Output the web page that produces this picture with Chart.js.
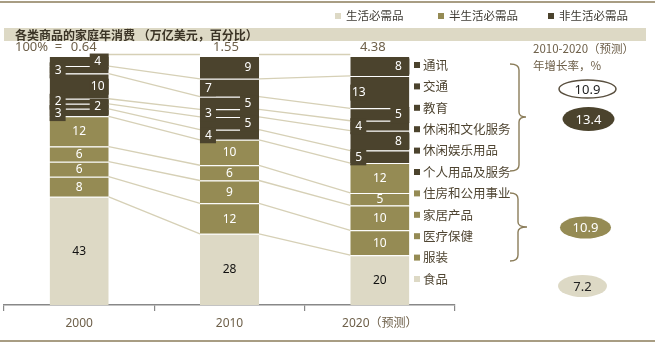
<!DOCTYPE html>
<html><head><meta charset="utf-8">
<script src="https://cdn.jsdelivr.net/npm/chart.js@4/dist/chart.umd.min.js"></script>
<style>html,body{margin:0;padding:0;background:#fff;}canvas{display:block;}</style>
</head><body>
<canvas id="c" width="662" height="344"></canvas>
<script>
const years = ['2000', '2010', '2020（预测）'];
const totals = ['0.64', '1.55', '4.38'];
const categories = ['食品','服装','医疗保健','家居产品','住房和公用事业','个人用品及服务','休闲娱乐用品','休闲和文化服务','教育','交通','通讯'];
const categoryGroup = [0,1,1,1,1,2,2,2,2,2,2];
const share2000 = [43,8,6,6,12,3,2,2,10,3,4];
const share2010 = [28,12,9,6,10,4,5,3,5,7,9];
const share2020 = [20,10,10,5,12,5,8,4,5,13,8];
const groupNames = ['生活必需品','半生活必需品','非生活必需品'];
const growthTotal = 10.9;
const growthByGroup = [7.2, 10.9, 13.4];

const groupColors = ['#ddd9c5', '#958b54', '#4b432d'];
const shares = [share2000, share2010, share2020];
const sums = shares.map(a => a.reduce((s, v) => s + v, 0));
const CJK = '"Noto Sans CJK SC", sans-serif';
const NUM = '"Noto Sans", sans-serif';
const TXT = '#6e604a';

const datasets = categories.map((name, i) => ({
  label: name,
  data: shares.map((arr, j) => arr[i] / sums[j] * 100),
  raw: shares.map(arr => arr[i]),
  backgroundColor: groupColors[categoryGroup[i]],
  borderColor: '#ffffff',
  borderWidth: {top: 1, left: 0, right: 0, bottom: 0},
  borderSkipped: false,
  categoryPercentage: 1,
  barPercentage: 0.393
}));

function brace(ctx, x0, xv, xt, yTop, yMid, yBot) {
  ctx.beginPath();
  ctx.moveTo(x0, yTop);
  ctx.quadraticCurveTo(xv, yTop, xv, yTop + 6);
  ctx.lineTo(xv, yMid - 5);
  ctx.quadraticCurveTo(xv, yMid, xt, yMid);
  ctx.quadraticCurveTo(xv, yMid, xv, yMid + 5);
  ctx.lineTo(xv, yBot - 6);
  ctx.quadraticCurveTo(xv, yBot, x0, yBot);
  ctx.stroke();
}
function oval(ctx, cx, cy, rx, ry, fill, stroke, text, color) {
  ctx.beginPath();
  ctx.ellipse(cx, cy, rx, ry, 0, 0, Math.PI * 2);
  if (fill) { ctx.fillStyle = fill; ctx.fill(); }
  if (stroke) { ctx.strokeStyle = stroke; ctx.lineWidth = 1.5; ctx.stroke(); }
  ctx.fillStyle = color;
  ctx.font = '13px ' + NUM;
  ctx.textAlign = 'center'; ctx.textBaseline = 'middle';
  ctx.fillText(text, cx, cy + 1);
}

const overlay = {
  id: 'overlay',
  beforeDraw(chart) {
    const ctx = chart.ctx;
    ctx.save();
    ctx.fillStyle = '#fff';
    ctx.fillRect(0, 0, chart.width, chart.height);
    ctx.strokeStyle = '#8b7d5a'; ctx.lineWidth = 1.5;
    ctx.beginPath(); ctx.moveTo(0, 2); ctx.lineTo(655, 2); ctx.stroke();
    ctx.beginPath(); ctx.moveTo(0, 341); ctx.lineTo(655, 341); ctx.stroke();
    ctx.font = '11.5px ' + CJK; ctx.textBaseline = 'middle'; ctx.textAlign = 'left';
    const lx = [335, 438, 548];
    groupNames.forEach((g, k) => {
      ctx.fillStyle = groupColors[k];
      ctx.fillRect(lx[k], 13, 6, 6);
      ctx.fillStyle = '#3d3a33';
      ctx.fillText(g, lx[k] + 11, 16);
    });
    ctx.fillStyle = '#ddd9c5';
    ctx.fillRect(4, 28, 642, 13);
    ctx.fillStyle = '#3b3426';
    ctx.font = 'bold 12px ' + CJK;
    ctx.fillText('各类商品的家庭年消费 （万亿美元，百分比）', 15, 35);
    ctx.restore();
  },
  beforeDatasetsDraw(chart) {
    const ctx = chart.ctx;
    ctx.save();
    ctx.strokeStyle = '#d6d0b6'; ctx.lineWidth = 1.3;
    chart.data.datasets.forEach((ds, i) => {
      const meta = chart.getDatasetMeta(i);
      const lift = i === categories.length - 1 ? 1.5 : 0;
      for (let j = 0; j < meta.data.length - 1; j++) {
        const a = meta.data[j], b = meta.data[j + 1];
        ctx.beginPath();
        ctx.moveTo(a.x + a.width / 2, a.y - lift);
        ctx.lineTo(b.x - b.width / 2, b.y - lift);
        ctx.stroke();
      }
    });
    ctx.restore();
  },
  afterDatasetsDraw(chart) {
    const ctx = chart.ctx;
    ctx.save();
    ctx.textAlign = 'center'; ctx.textBaseline = 'middle';
    ctx.font = '12px ' + NUM;
    const texts = [];
    chart.data.datasets.forEach((ds, i) => {
      const meta = chart.getDatasetMeta(i);
      const g = categoryGroup[i];
      meta.data.forEach((el, j) => {
        const cy = (el.y + el.base) / 2 + 0.5;
        const L = el.x - el.width / 2, R = el.x + el.width / 2;
        let x = el.x, color = g === 0 ? '#111' : '#fff';
        if (g === 2) {
          const left = (i - 5) % 2 === 0;
          ctx.fillStyle = groupColors[2];
          if (left) { ctx.fillRect(L, cy - 8, 16, 16); x = L + 8.5; }
          else { ctx.fillRect(R - 19, cy - 8, 19, 16); x = R - 11; }
        }
        texts.push([String(ds.raw[j]), x, cy, color]);
      });
    });
    texts.forEach(t => { ctx.fillStyle = t[3]; ctx.fillText(t[0], t[1], t[2]); });
    const top = chart.getDatasetMeta(categories.length - 1).data;
    ctx.font = '13px ' + NUM; ctx.fillStyle = TXT;
    const nudge = [4.5, -3.5, -7];
    top.forEach((el, j) => ctx.fillText(totals[j], el.x + nudge[j], 47));
    ctx.textAlign = 'left';
    ctx.fillText('100%  =', 15, 47);
    ctx.font = '12.5px ' + CJK;
    categories.forEach((c, i) => {
      const y = 279 - 21.4 * i;
      ctx.fillStyle = groupColors[categoryGroup[i]];
      ctx.fillRect(414, y - 3, 6, 6);
      ctx.fillStyle = '#4f4532';
      ctx.fillText(c, 423, y);
    });
    ctx.strokeStyle = '#8b7d5a'; ctx.lineWidth = 1.4;
    brace(ctx, 510, 519, 526, 64, 117, 171);
    brace(ctx, 510, 518, 527, 193, 227, 261);
    ctx.fillStyle = TXT; ctx.font = '11.5px ' + CJK; ctx.textAlign = 'left';
    ctx.fillText('2010-2020（预测）', 533, 49);
    ctx.fillText('年增长率，%', 533, 66);
    oval(ctx, 587.5, 89, 28.5, 9, null, '#5a5040', String(growthTotal), '#222');
    oval(ctx, 588.5, 119, 26, 12, groupColors[2], null, String(growthByGroup[2]), '#fff');
    oval(ctx, 585.5, 227.5, 25.5, 11, groupColors[1], null, String(growthByGroup[1]), '#fff');
    oval(ctx, 582.5, 286, 24.5, 11, groupColors[0], null, String(growthByGroup[0]), '#222');
    ctx.restore();
  }
};

new Chart(document.getElementById('c'), {
  type: 'bar',
  data: { labels: years, datasets },
  options: {
    responsive: false,
    devicePixelRatio: 1,
    animation: false,
    layout: { padding: { left: 4, right: 207, top: 56, bottom: 0 } },
    plugins: { legend: { display: false }, tooltip: { enabled: false } },
    scales: {
      x: {
        stacked: true,
        afterFit: s => { s.height = 39; },
        grid: { display: true, drawOnChartArea: false, drawTicks: true, tickLength: 6, color: '#888', lineWidth: 1.2, offset: true },
        border: { display: true, color: '#888', width: 1.5 },
        ticks: { color: TXT, font: { size: 12, family: '"Noto Sans", "Noto Sans CJK SC", sans-serif' }, padding: 5 }
      },
      y: { stacked: true, display: false, min: 0, max: 100 }
    }
  },
  plugins: [overlay]
});
</script>
</body></html>
